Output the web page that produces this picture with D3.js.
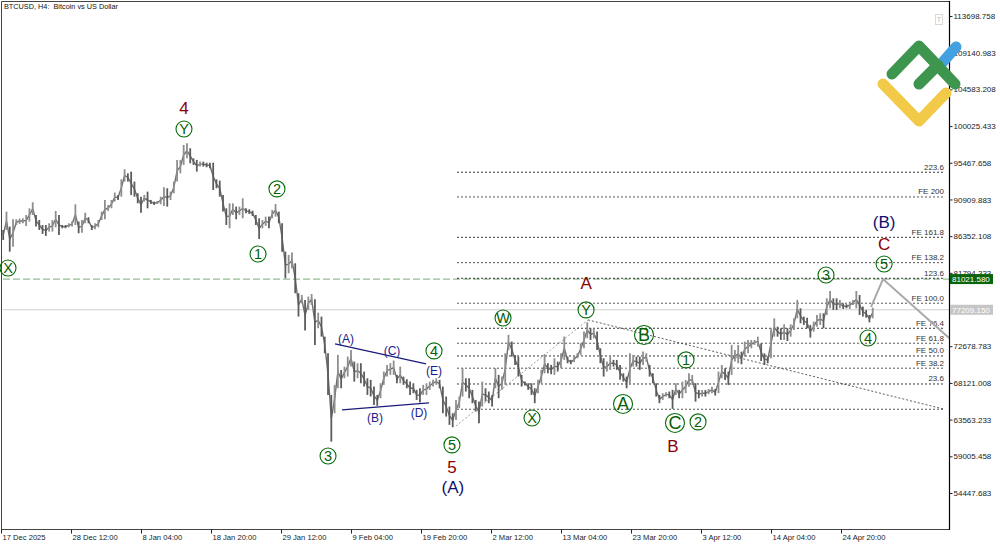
<!DOCTYPE html>
<html>
<head>
  <meta charset="utf-8">
  <script src="https://cdn.jsdelivr.net/npm/d3@7"></script>
  <style>
    html, body { margin: 0; padding: 0; background: #fff; }
    svg { display: block; }
    text { font-family: "Liberation Sans", Arial, sans-serif; }
    .tick text { font-size: 8px; fill: #222; }
    .tick line { stroke: #222; }
  </style>
</head>
<body>
  <script type="text/javascript">
    // one sample every 3 H4 bars, in thousands of USD
    var highs = [
      87.12,89.40,87.54,88.45,88.45,88.53,88.57,88.98,89.81,90.56,88.98,88.36,87.74,87.74,87.95,88.36,89.48,88.98,87.74,87.74,
      87.95,88.16,90.31,88.16,88.36,89.27,88.70,87.74,87.95,88.36,89.40,90.85,90.23,90.85,91.76,91.47,93.41,94.66,94.16,94.37,
      93.13,91.68,91.26,91.47,91.88,90.85,90.64,90.72,91.26,92.42,92.30,91.88,93.13,95.82,95.82,97.68,97.89,97.27,96.02,95.82,
      95.61,95.61,95.48,95.48,95.48,93.41,93.25,91.47,89.81,90.43,90.43,90.02,90.02,91.05,89.81,89.69,89.52,88.98,88.57,88.36,
      88.78,88.78,89.61,90.35,89.40,87.95,84.43,84.02,84.31,82.98,79.26,79.05,78.43,78.84,79.17,78.51,76.85,76.36,73.87,71.80,
      66.63,67.87,71.60,69.73,70.15,71.39,72.22,70.77,70.56,70.57,69.53,68.70,68.50,67.67,66.63,68.08,69.53,70.36,70.57,70.90,
      69.12,70.15,68.91,68.58,68.29,68.08,67.26,67.46,67.88,68.08,68.29,68.50,68.70,68.50,67.67,66.43,65.19,64.36,66.01,66.43,
      69.95,68.70,68.70,67.26,66.01,65.81,68.29,67.46,67.05,66.63,69.95,69.12,68.91,71.81,74.09,73.26,71.60,71.39,69.12,68.29,
      68.08,68.08,67.46,68.50,69.74,71.68,70.57,70.36,71.19,70.77,71.81,73.88,71.39,70.98,71.39,71.81,73.05,74.50,75.66,74.91,
      74.91,74.50,72.43,71.19,70.77,71.39,70.98,70.98,70.36,69.32,68.91,71.81,71.60,71.39,71.39,72.02,71.81,70.36,69.32,68.08,
      66.63,66.84,66.96,67.05,67.26,68.08,67.26,68.28,68.49,69.32,69.11,68.08,67.25,67.25,67.25,67.37,67.66,67.37,69.53,70.35,
      69.94,69.53,72.84,72.22,72.84,72.01,73.25,73.46,73.46,73.46,73.87,73.04,71.80,71.39,74.91,76.15,75.11,74.91,75.40,74.91,
      75.40,76.15,78.43,77.39,76.36,76.23,75.32,75.74,76.56,76.77,76.77,78.63,79.54,78.63,78.63,78.43,78.01,77.89,78.22,78.43,
      79.54,79.05,77.60,77.18,76.56,77.47
    ];
    var lows = [
      85.88,87.12,84.43,85.05,87.74,87.87,87.95,87.62,88.16,88.98,87.54,87.12,86.63,86.38,86.92,86.92,87.45,86.50,87.33,87.33,
      87.45,87.54,87.74,86.71,86.79,87.95,87.95,87.12,87.20,87.45,88.36,88.45,89.48,89.81,90.64,90.85,91.26,93.13,93.13,91.47,
      91.26,90.43,89.27,90.64,89.81,90.35,90.23,90.35,90.31,90.10,90.02,90.85,91.68,93.13,94.16,95.20,96.02,95.40,95.20,94.37,
      94.99,94.99,94.91,94.78,92.09,92.30,91.26,89.40,87.74,87.33,88.98,88.45,88.98,88.57,89.19,89.11,88.86,87.74,86.00,87.33,
      87.62,87.33,88.57,88.78,87.95,84.43,81.12,81.74,82.36,79.26,76.36,78.01,74.62,77.19,77.81,72.84,74.91,73.87,71.80,66.63,
      60.83,64.35,67.46,67.46,68.70,68.91,70.15,68.28,68.70,68.08,67.67,66.63,66.43,65.39,65.27,66.22,67.88,68.91,69.12,69.12,
      68.08,68.08,67.88,67.46,66.63,66.84,66.01,65.68,66.63,66.63,67.26,67.67,67.88,67.46,64.36,63.94,62.91,62.62,63.53,64.98,
      66.43,67.05,66.22,65.60,64.56,63.12,65.19,65.81,65.60,65.19,67.46,66.22,67.26,67.88,72.22,71.39,70.36,68.91,67.67,67.79,
      67.26,66.63,65.60,66.84,68.08,69.32,69.32,69.20,69.12,69.53,69.95,70.98,70.57,70.44,70.69,71.19,71.60,72.43,73.67,73.46,
      73.67,72.22,70.57,68.91,69.53,69.74,70.15,69.74,68.50,68.29,67.46,67.88,70.15,70.15,69.74,70.36,70.77,68.91,68.08,66.43,
      65.60,66.01,66.43,66.22,64.90,66.63,66.22,66.21,66.85,67.66,67.87,65.80,66.21,66.42,66.42,66.71,66.85,66.55,66.85,68.70,
      68.49,67.87,69.11,70.77,70.56,70.44,71.39,71.80,72.42,72.84,72.63,70.85,70.35,70.56,71.18,73.87,73.87,73.46,73.46,73.33,
      73.87,74.70,76.15,75.53,75.32,74.91,73.75,74.49,75.11,75.32,74.91,76.56,77.39,77.18,77.18,77.39,77.31,77.39,77.31,77.80,
      77.39,76.56,76.36,76.23,75.65,76.15
    ];

    var priceTicks = [113698.758,109140.983,104583.208,100025.433,95467.658,90909.883,86352.108,81794.333,72678.783,68121.008,63563.233,59005.458,54447.683];
    var timeTicks = [0,64,128,192,256,320,384,448,512,576,640,704,768];
    var timeLabels = ["17 Dec 2025","28 Dec 12:00","8 Jan 04:00","18 Jan 20:00","29 Jan 12:00","9 Feb 04:00","19 Feb 20:00","2 Mar 12:00","13 Mar 04:00","23 Mar 20:00","3 Apr 12:00","14 Apr 04:00","24 Apr 20:00"];

    var fibNames = ["223.6","FE 200","FE 161.8","FE 138.2","123.6","FE 100.0","FE 76.4","FE 61.8","FE 50.0","FE 38.2","23.6",""];
    var fibPrices = [94.29,91.22,86.21,83.06,81.12,78.02,74.91,73.05,71.47,69.95,67.99,64.85];

    var askPrice = 81021.580;
    var lastPrice = 77209.150;

    var forecastBars = [795.5,806.4,866.8];
    var forecastPrices = [77.56,81.02,73.71];
    var trendBars = [416,536.7,861.3];
    var trendPrices = [62.78,75.95,64.89];
    var wedgeBars = [[305.4,388.6],[311.8,391.3]];
    var wedgePrices = [[72.97,70.48],[64.77,65.64]];

    // wave labels, as [text, bar, price in thousands]
    var minuteLabels = [["Y",167.3,99.67],["X",6.4,82.40],["2",252.3,92.22],["1",235,84.14],["3",299,59.05],["4",395.9,72.10],["5",412.3,60.42],["W",459,76.19],["X",485.5,63.77],["Y",534.9,77.19],["1",626.3,70.98],["2",637.3,63.28],["3",754.3,81.53],["4",792.7,73.71],["5",807.4,82.90]];
    var minorLabels = [["A",568.7,65.51],["B",587.9,74.08],["C",616.2,63.15]];
    var intermediateLabels = [["4",167.3,102.28],["A",534.9,80.54],["B",614.4,60.30],["C",807.4,85.38],["5",412.3,57.69]];
    var primaryLabels = [["(A)",413.2,55.20],["(B)",807.4,88.12]];
    var triangleLabels = [["(A)",315.4,73.59],["(C)",357.5,72.10],["(E)",395.9,69.61],["(B)",342,63.77],["(D)",382.2,64.40]];

    var width = 1000, height = 545, axisX = 949, axisY = 529;

    var x = d3.scaleLinear().domain([0, 64]).range([1, 71]);
    var y = d3.scaleLinear().domain([54447.683, 113698.758]).range([493, 16]);
    function py(k) { return y(k * 1000); }
    function sampleBar(i) { return 2 + 3 * i; }

    var svg = d3.select("body").append("svg").attr("width", width).attr("height", height);

    // horizontal price lines
    svg.append("line").attr("x1", 3).attr("x2", axisX)
      .attr("y1", y(lastPrice)).attr("y2", y(lastPrice))
      .attr("stroke", "#cfcfcf").attr("stroke-width", 1.2);
    svg.append("line").attr("x1", 3).attr("x2", axisX)
      .attr("y1", y(askPrice)).attr("y2", y(askPrice))
      .attr("stroke", "#93bd93").attr("stroke-width", 1.3).attr("stroke-dasharray", "7,3");

    // fibonacci levels
    var fib = svg.append("g");
    fibPrices.forEach(function (p, i) {
      fib.append("line").attr("x1", 457).attr("x2", 944)
        .attr("y1", py(p)).attr("y2", py(p))
        .attr("stroke", i % 2 ? "#444" : "#222").attr("stroke-width", 0.9).attr("stroke-dasharray", "2,2");
      fib.append("text").attr("x", 944).attr("y", py(p) - 2.5)
        .attr("text-anchor", "end").attr("font-size", 8).attr("fill", "#333")
        .text(fibNames[i]);
    });

    // trend dots
    var lineGen = d3.line();
    svg.append("path")
      .attr("d", lineGen(trendBars.slice(0, 2).map(function (b, i) { return [x(b), py(trendPrices[i])]; })))
      .attr("fill", "none").attr("stroke", "#888").attr("stroke-width", 0.8).attr("stroke-dasharray", "2,2");
    svg.append("path")
      .attr("d", lineGen(trendBars.slice(1).map(function (b, i) { return [x(b), py(trendPrices[i + 1])]; })))
      .attr("fill", "none").attr("stroke", "#333").attr("stroke-width", 0.8).attr("stroke-dasharray", "2,2");

    // price
    var mids = highs.map(function (h, i) { return (h + lows[i]) / 2; });
    svg.append("path")
      .attr("d", d3.line()
        .x(function (d, i) { return x(sampleBar(i)); })
        .y(function (d) { return py(d); })(mids))
      .attr("fill", "none").attr("stroke", "#6e6e6e").attr("stroke-width", 1.4);
    svg.append("g").selectAll("line").data(highs).enter().append("line")
      .attr("x1", function (d, i) { return x(sampleBar(i)); })
      .attr("x2", function (d, i) { return x(sampleBar(i)); })
      .attr("y1", function (d) { return py(d); })
      .attr("y2", function (d, i) { return py(lows[i]); })
      .attr("stroke", function (d, i) { return i > 0 && mids[i] > mids[i - 1] ? "#8e8e8e" : "#5c5c5c"; })
      .attr("stroke-width", 1.8);

    // forecast
    svg.append("path")
      .attr("d", lineGen(forecastBars.map(function (b, i) { return [x(b), py(forecastPrices[i])]; })))
      .attr("fill", "none").attr("stroke", "#a8a8a8").attr("stroke-width", 2);

    // triangle
    wedgeBars.forEach(function (bars, i) {
      svg.append("line")
        .attr("x1", x(bars[0])).attr("x2", x(bars[1]))
        .attr("y1", py(wedgePrices[i][0])).attr("y2", py(wedgePrices[i][1]))
        .attr("stroke", "#1b1b7a").attr("stroke-width", 1.3);
    });

    // frame
    svg.append("path")
      .attr("d", "M1.5," + axisY + "V1.5H" + axisX)
      .attr("fill", "none").attr("stroke", "#444").attr("stroke-width", 1);
    svg.append("line").attr("x1", 1).attr("x2", axisX).attr("y1", axisY + 0.5).attr("y2", axisY + 0.5)
      .attr("stroke", "#444").attr("stroke-width", 1);
    svg.append("line").attr("x1", axisX + 0.5).attr("x2", axisX + 0.5).attr("y1", 1).attr("y2", axisY + 1)
      .attr("stroke", "#000").attr("stroke-width", 1.2);

    // axes
    var yAxis = svg.append("g").attr("transform", "translate(" + (axisX + 0.5) + ",0)")
      .call(d3.axisRight(y).tickValues(priceTicks).tickSize(3).tickPadding(1)
        .tickFormat(function (d) { return d.toFixed(3); }));
    yAxis.select(".domain").remove();

    var xAxis = svg.append("g").attr("transform", "translate(0," + (axisY + 0.5) + ")")
      .call(d3.axisBottom(x).tickValues(timeTicks).tickSize(4).tickPadding(1)
        .tickFormat(function (d, i) { return timeLabels[i]; }));
    xAxis.select(".domain").remove();
    xAxis.selectAll("text").attr("text-anchor", "start").attr("dx", 1).style("font-size", "7.6px");

    // title
    svg.append("text").attr("x", 4).attr("y", 9).attr("font-size", 7.3).attr("fill", "#111")
      .attr("xml:space", "preserve").text("BTCUSD, H4:  Bitcoin vs US Dollar");

    // price tags
    function priceTag(p, fill) {
      svg.append("rect").attr("x", axisX + 1).attr("y", y(p) - 5).attr("width", 43).attr("height", 10).attr("fill", fill);
      svg.append("text").attr("x", axisX + 3).attr("y", y(p) + 3).attr("font-size", 8).attr("fill", "#fff").text(p.toFixed(3));
    }
    priceTag(lastPrice, "#c6c6c6");
    priceTag(askPrice, "#0a640a");

    // wave labels
    function circled(list, r, size) {
      var g = svg.append("g").selectAll("g").data(list).enter().append("g")
        .attr("transform", function (d) { return "translate(" + x(d[1]) + "," + py(d[2]) + ")"; });
      g.append("circle").attr("r", r).attr("fill", "none").attr("stroke", "#066c06").attr("stroke-width", 1.1);
      g.append("text").attr("text-anchor", "middle").attr("dy", "0.36em").attr("font-size", size)
        .attr("fill", "#066006").text(function (d) { return d[0]; });
    }
    function plain(list, size, color) {
      svg.append("g").selectAll("text").data(list).enter().append("text")
        .attr("x", function (d) { return x(d[1]); })
        .attr("y", function (d) { return py(d[2]); })
        .attr("text-anchor", "middle").attr("dy", "0.36em")
        .attr("font-size", size).attr("fill", color)
        .text(function (d) { return d[0]; });
    }
    circled(minuteLabels, 8, 14.5);
    circled(minorLabels, 9.5, 18);
    plain(intermediateLabels, 17, "#8b0000");
    plain(primaryLabels, 17, "#10106e");
    plain(triangleLabels, 12, "#1c1c8a");

    // small toolbar button
    svg.append("rect").attr("x", 935.5).attr("y", 14.5).attr("width", 7).attr("height", 10)
      .attr("fill", "#fff").attr("stroke", "#d8d8d8");
    svg.append("text").attr("x", 939).attr("y", 22).attr("text-anchor", "middle")
      .attr("font-size", 7).attr("fill", "#bbb").text("T");

    // logo
    var logo = svg.append("g").attr("fill", "none").attr("stroke-linecap", "round").attr("stroke-linejoin", "round").attr("stroke-width", 11);
    logo.append("path").attr("d", "M942,63L956,47").attr("stroke", "#43a1e2");
    logo.append("path").attr("d", "M883,84L919,121L946,93").attr("stroke", "#f2ca47");
    logo.append("path").attr("d", "M892,74L919,46L955,84M919,84L938,65").attr("stroke", "#3e964e");
  </script>
</body>
</html>
